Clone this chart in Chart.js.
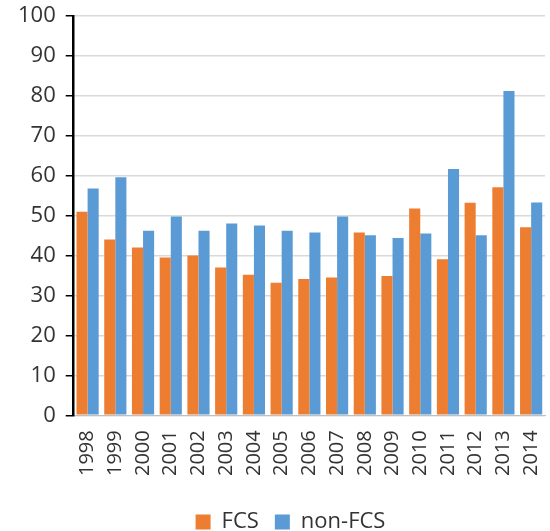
<!DOCTYPE html>
<html>
<head>
<meta charset="utf-8">
<script src="https://cdn.jsdelivr.net/npm/chart.js@4"></script>
<style>
  html, body { margin: 0; padding: 0; background: #ffffff; }
  #wrap { width: 550px; height: 531px; }
</style>
</head>
<body>
<div id="wrap"><canvas id="c" width="550" height="531"></canvas></div>
<script>
const categories = ["1998","1999","2000","2001","2002","2003","2004","2005","2006","2007","2008","2009","2010","2011","2012","2013","2014"];
const fcsValues = [51.0, 44.0, 42.0, 39.5, 40.0, 37.0, 35.2, 33.2, 34.1, 34.5, 45.8, 34.9, 51.8, 39.1, 53.2, 57.1, 47.1];
const nonFcsValues = [56.8, 59.6, 46.2, 49.8, 46.2, 48.0, 47.5, 46.2, 45.8, 49.8, 45.1, 44.4, 45.5, 61.7, 45.1, 81.2, 53.3];
const seriesNames = ["FCS", "non-FCS"];
const yTicks = [0, 10, 20, 30, 40, 50, 60, 70, 80, 90, 100];

const FONT = "'Open Sans', 'Noto Sans', sans-serif";

const shiftLegend = {
  id: 'shiftLegend',
  afterLayout(chart) {
    if (chart.legend) { chart.legend.left += 28; }
  }
};

new Chart(document.getElementById('c'), {
  type: 'bar',
  data: {
    labels: categories,
    datasets: [
      { label: seriesNames[0], data: fcsValues, backgroundColor: '#ED7D31', borderWidth: 0 },
      { label: seriesNames[1], data: nonFcsValues, backgroundColor: '#5B9BD5', borderWidth: 0 }
    ]
  },
  plugins: [shiftLegend],
  options: {
    responsive: false,
    animation: false,
    devicePixelRatio: 1,
    layout: { padding: { left: 8, right: 5, top: 16, bottom: -12 } },
    datasets: { bar: { categoryPercentage: 0.8, barPercentage: 1.0 } },
    plugins: {
      tooltip: { enabled: false },
      legend: {
        position: 'bottom',
        labels: {
          font: { family: FONT, size: 22 },
          color: '#333333',
          boxWidth: 15,
          boxHeight: 15,
          padding: 16,
          useBorderRadius: false
        }
      }
    },
    scales: {
      x: {
        grid: { display: false },
        border: { display: true, color: '#bfbfbf', width: 1 },
        afterFit: (s) => { s.paddingLeft = 0; s.paddingRight = 0; s.height += 12; },
        ticks: {
          font: { family: FONT, size: 20 },
          color: '#333333',
          maxRotation: 90,
          minRotation: 90,
          padding: 7,
          autoSkip: false
        }
      },
      y: {
        min: 0,
        max: 100,
        afterBuildTicks: (axis) => { axis.ticks = yTicks.map(v => ({ value: v })); },
        afterFit: (s) => { s.paddingTop = 0; s.paddingBottom = 0; },
        grid: { color: '#d9d9d9', lineWidth: 1.5, tickColor: '#000000', tickLength: 8, drawTicks: true },
        border: { display: true, color: '#000000', width: 2.5 },
        ticks: {
          font: { family: FONT, size: 22 },
          color: '#333333',
          padding: 10
        }
      }
    }
  }
});
</script>
</body>
</html>
